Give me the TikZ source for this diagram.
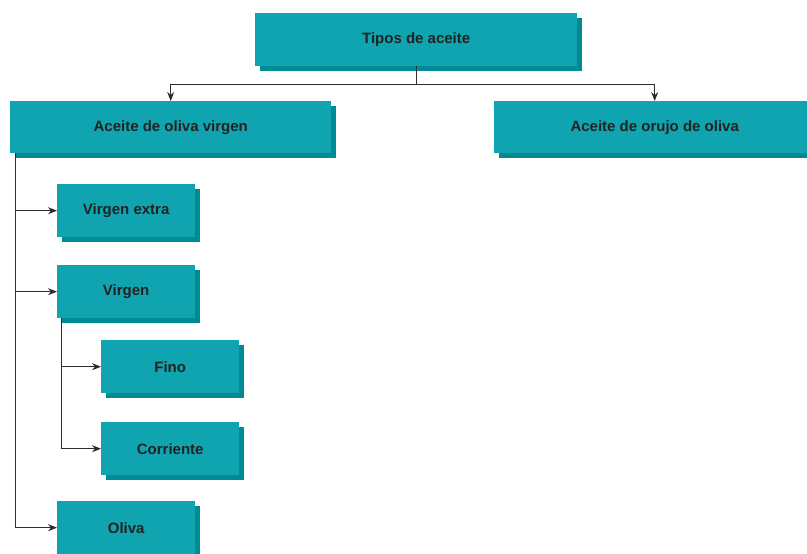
\documentclass[tikz,border=0pt]{standalone}
\usepackage{fontspec}
\setmainfont{Liberation Sans}
\usetikzlibrary{arrows.meta,shadows}
\definecolor{boxteal}{RGB}{16,164,177}
\definecolor{shadeteal}{RGB}{0,139,148}
\definecolor{ink}{RGB}{34,34,34}
\definecolor{linegray}{RGB}{45,45,45}

\begin{document}
\begin{tikzpicture}[x=1pt,y=-1pt,font=\fontsize{15}{18}\selectfont\bfseries,
  box/.style={fill=boxteal,text=ink,inner sep=0pt,anchor=north west,
    general shadow={fill=shadeteal,shadow xshift=5pt,shadow yshift=-5pt}},
  wide/.style={box,minimum width=321pt,minimum height=52pt},
  small/.style={box,minimum width=138pt,minimum height=53pt},
  arr/.style={draw=linegray,line width=0.9pt,-{Stealth[length=9pt,width=7pt,inset=3pt]}}]
\useasboundingbox (0,0) rectangle (807,554);
\node[box,minimum width=322pt,minimum height=53pt] (tipos) at (255,13) {Tipos de aceite};
\node[wide] (virg) at (10,101) {Aceite de oliva virgen};
\node[wide] (orujo) at (494,101) {Aceite de orujo de oliva};
\node[small] (extra) at (57,184) {Virgen extra};
\node[small] (virgen) at (57,265) {Virgen};
\node[small] (fino) at (101,340) {Fino};
\node[small] (corr) at (101,422) {Corriente};
\node[small] (oliva) at (57,501) {Oliva};
% fork below the top box
\coordinate (fork) at (tipos.south |- 0,84);
\draw[draw=linegray,line width=0.9pt] (tipos.south) -- (fork);
\draw[arr] (fork) -| (virg.north);
\draw[arr] (fork) -| (orujo.north);
% left trunk
\draw[arr] ([xshift=5pt]virg.south west) |- (extra.west);
\draw[arr] ([xshift=5pt]virg.south west) |- (virgen.west);
\draw[arr] ([xshift=5pt]virg.south west) |- (oliva.west);
\draw[arr] ([xshift=4pt]virgen.south west) |- (fino.west);
\draw[arr] ([xshift=4pt]virgen.south west) |- (corr.west);
\end{tikzpicture}
\end{document}
